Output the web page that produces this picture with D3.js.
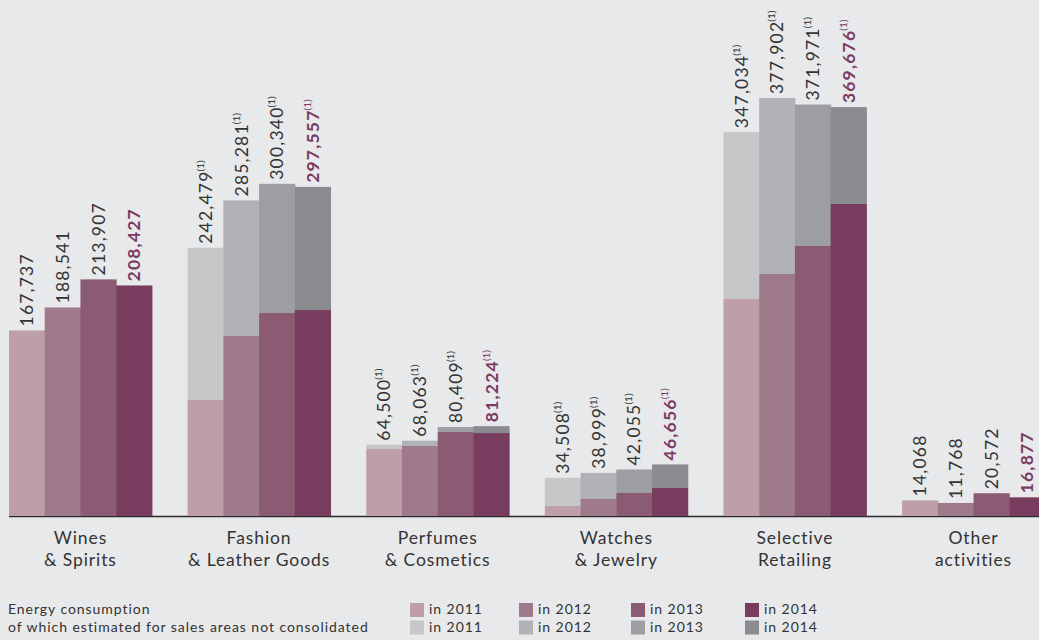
<!DOCTYPE html>
<html>
<head>
<meta charset="utf-8">
<script src="https://cdn.jsdelivr.net/npm/d3@7"></script>
<style>
  body { margin: 0; background: #e8e9eb; }
  svg { display: block; font-family: Lato, "Noto Sans", sans-serif; }
</style>
</head>
<body>
<div id="chart"></div>
<script>
// categories and years
var categories = [["Wines", "& Spirits"], ["Fashion", "& Leather Goods"], ["Perfumes", "& Cosmetics"],
  ["Watches", "& Jewelry"], ["Selective", "Retailing"], ["Other", "activities"]];
var years = ["2011", "2012", "2013", "2014"];

// total energy consumption (label values), per category, 2011..2014
var totals = [
  [167737, 188541, 213907, 208427],
  [242479, 285281, 300340, 297557],
  [64500, 68063, 80409, 81224],
  [34508, 38999, 42055, 46656],
  [347034, 377902, 371971, 369676],
  [14068, 11768, 20572, 16877]
];
// consolidated part (purple)
var consolidated = [
  [167737, 188541, 213907, 208427],
  [105000, 162700, 183500, 186200],
  [60600, 63300, 75900, 75000],
  [9000, 15400, 20800, 25300],
  [196200, 218800, 244100, 282100],
  [14068, 11768, 20572, 16877]
];
// footnote "(1)" on the label
var hasNote = [false, true, true, true, true, false];

var purple = ["#bd9ea9", "#9f7a8a", "#8a5b72", "#783d5e"];
var grey = ["#c6c7c9", "#b1b2b5", "#9d9ea1", "#8a8b8e"];

var width = 1039, height = 640;

var svg = d3.select("#chart").append("svg")
  .attr("width", width)
  .attr("height", height);

svg.append("rect").attr("width", width).attr("height", height).attr("fill", "#e8e9eb");

var x0 = d3.scaleBand()
  .domain(d3.range(categories.length))
  .range([9, 1045])
  .paddingInner(0.2)
  .paddingOuter(0);

var x1 = d3.scaleBand()
  .domain(years)
  .range([0, x0.bandwidth()]);

var y = d3.scaleLinear()
  .domain([0, 377902])
  .range([516, 98]);

// axis line
svg.append("line")
  .attr("x1", 9).attr("x2", width)
  .attr("y1", y(0) + 0.5).attr("y2", y(0) + 0.5)
  .attr("stroke", "#2b2b2b")
  .attr("stroke-width", 1.5);

var groups = svg.selectAll("g.group")
  .data(categories)
  .enter().append("g")
  .attr("class", "group")
  .attr("transform", function (d, i) { return "translate(" + x0(i) + ",0)"; });

groups.each(function (cat, i) {
  var g = d3.select(this);
  years.forEach(function (yr, j) {
    var tot = totals[i][j], cons = consolidated[i][j];
    // grey part (estimated, not consolidated)
    if (tot > cons) {
      g.append("rect")
        .attr("x", x1(yr))
        .attr("width", x1.bandwidth() + 0.5)
        .attr("y", y(tot))
        .attr("height", y(cons) - y(tot))
        .attr("fill", grey[j]);
    }
    g.append("rect")
      .attr("x", x1(yr))
      .attr("width", x1.bandwidth() + 0.5)
      .attr("y", y(cons))
      .attr("height", y(0) - y(cons))
      .attr("fill", purple[j]);

    var cx = x1(yr) + x1.bandwidth() / 2, ty = y(tot) - 4;
    var t = g.append("text")
      .attr("transform", "translate(" + cx + "," + ty + ") rotate(-90)")
      .attr("dy", "0.36em")
      .attr("font-size", 17.5)
      .attr("letter-spacing", 1.2)
      .attr("fill", j == 3 ? "#7b3a63" : "#333333")
      .attr("font-weight", j == 3 ? "bold" : "normal");
    t.append("tspan").text(d3.format(",")(tot));
    if (hasNote[i]) {
      t.append("tspan")
        .attr("font-size", 10)
        .attr("letter-spacing", 0)
        .attr("dx", -1)
        .attr("dy", "-0.8em")
        .attr("font-weight", "normal")
        .text("(1)");
    }
  });

  g.append("text")
    .attr("x", x0.bandwidth() / 2)
    .attr("y", 544)
    .attr("text-anchor", "middle")
    .attr("font-size", 17.5)
    .attr("letter-spacing", 0.9)
    .attr("fill", "#333333")
    .selectAll("tspan")
    .data(cat)
    .enter().append("tspan")
    .attr("x", x0.bandwidth() / 2)
    .attr("dy", function (d, k) { return k ? 22 : 0; })
    .text(function (d) { return d; });
});

// legend
var legendText = ["Energy consumption", "of which estimated for sales areas not consolidated"];
svg.selectAll("text.legtitle")
  .data(legendText)
  .enter().append("text")
  .attr("class", "legtitle")
  .attr("x", 8)
  .attr("y", function (d, k) { return 614 + k * 18; })
  .attr("font-size", 14)
  .attr("letter-spacing", 0.95)
  .attr("fill", "#333333")
  .text(function (d) { return d; });

var legX = [410, 519, 631, 745];
[purple, grey].forEach(function (pal, k) {
  years.forEach(function (yr, j) {
    svg.append("rect")
      .attr("x", legX[j]).attr("y", 603 + k * 17.5)
      .attr("width", 14).attr("height", 14)
      .attr("fill", pal[j]);
    svg.append("text")
      .attr("x", legX[j] + 19).attr("y", 614 + k * 18)
      .attr("font-size", 14)
      .attr("letter-spacing", 0.95)
      .attr("fill", "#333333")
      .text("in " + yr);
  });
});
</script>
</body>
</html>
